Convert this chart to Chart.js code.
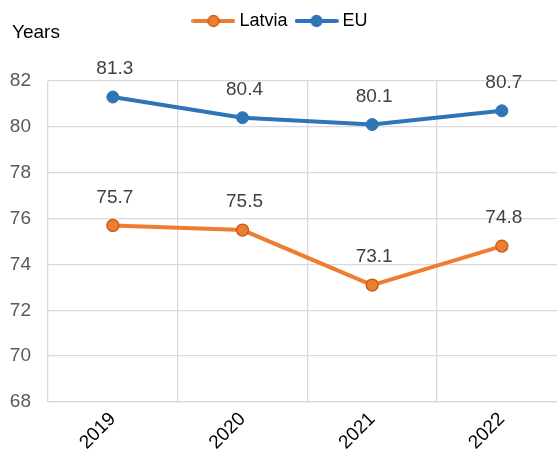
<!DOCTYPE html>
<html><head><meta charset="utf-8">
<script src="https://cdn.jsdelivr.net/npm/chart.js@4/dist/chart.umd.min.js"></script>
<style>html,body{margin:0;padding:0;overflow:hidden;background:#fff}#c{display:block}</style>
</head><body><canvas id="c" width="574" height="454" style="width:574px;height:454px"></canvas>
<script>
const categories = ['2019', '2020', '2021', '2022'];
const latviaValues = [75.7, 75.5, 73.1, 74.8];
const euValues = [81.3, 80.4, 80.1, 80.7];
const seriesNames = ['Latvia', 'EU'];
const yMin = 68, yMax = 82, yStep = 2;
const unitLabel = 'Years';

const FONT = "'Liberation Sans', Arial, sans-serif";
const ORANGE = '#ED7D31', ORANGE_DARK = '#C55A11', BLUE = '#2E75B6';

function markerImage(color, border) {
  const c = document.createElement('canvas');
  c.width = 44; c.height = 14;
  const g = c.getContext('2d');
  g.strokeStyle = color; g.lineWidth = 4; g.lineCap = 'round';
  g.beginPath(); g.moveTo(2, 7); g.lineTo(42, 7); g.stroke();
  g.fillStyle = color; g.beginPath(); g.arc(22, 7, 5.5, 0, Math.PI * 2); g.fill();
  g.strokeStyle = border; g.lineWidth = 1.3; g.stroke();
  return c;
}

const labelPlugin = {
  id: 'valueLabels',
  afterDatasetsDraw(chart) {
    const ctx = chart.ctx;
    ctx.save();
    ctx.font = '19px ' + FONT;
    ctx.fillStyle = '#404040';
    ctx.textAlign = 'center';
    ctx.textBaseline = 'middle';
    chart.data.datasets.forEach((ds, i) => {
      chart.getDatasetMeta(i).data.forEach((pt, j) => {
        ctx.fillText(ds.data[j].toFixed(1), pt.x + 2, pt.y - 28);
      });
    });
    ctx.restore();
  }
};
const unitPlugin = {
  id: 'unitLabel',
  afterLayout(chart) {
    if (chart.legend) { chart.legend.left -= 5; chart.legend.right -= 5; }
  },
  afterDraw(chart) {
    const ctx = chart.ctx;
    ctx.save();
    ctx.font = '19px ' + FONT;
    ctx.fillStyle = '#000';
    ctx.textAlign = 'left';
    ctx.textBaseline = 'middle';
    ctx.fillText(unitLabel, 12, 33);
    ctx.restore();
  }
};

new Chart(document.getElementById('c'), {
  type: 'line',
  data: {
    labels: categories,
    datasets: [
      { label: seriesNames[0], data: latviaValues, borderColor: ORANGE, backgroundColor: ORANGE,
        pointBackgroundColor: ORANGE, pointBorderColor: ORANGE_DARK, pointBorderWidth: 1.3,
        pointRadius: 6, borderWidth: 4, tension: 0, pointStyle: 'circle' },
      { label: seriesNames[1], data: euValues, borderColor: BLUE, backgroundColor: BLUE,
        pointBackgroundColor: BLUE, pointBorderColor: BLUE, pointBorderWidth: 1,
        pointRadius: 6, borderWidth: 4, tension: 0, pointStyle: 'circle' }
    ]
  },
  options: {
    responsive: false, animation: false, devicePixelRatio: 1,
    layout: { padding: { top: 0, left: 0, right: 0, bottom: 0 } },
    plugins: {
      tooltip: { enabled: false },
      title: { display: true, text: '', weight: 500, font: { size: 12 }, padding: { top: 0, bottom: 26.6 } },
      legend: {
        position: 'top', align: 'center',
        labels: {
          usePointStyle: true, pointStyleWidth: 34, padding: 12,
          font: { size: 18, family: FONT }, color: '#000',
          generateLabels(chart) {
            return chart.data.datasets.map((ds, i) => ({
              text: ds.label, datasetIndex: i, hidden: false, fontColor: '#000',
              pointStyle: markerImage(ds.borderColor, ds.pointBorderColor),
              fillStyle: ds.borderColor, strokeStyle: ds.borderColor, lineWidth: 0
            }));
          }
        }
      }
    },
    scales: {
      x: {
        offset: true,
        grid: { offset: true, color: '#d9d9d9', lineWidth: 1.3, drawTicks: false },
        border: { color: '#d9d9d9', width: 1.3 },
        ticks: { maxRotation: 45, minRotation: 45, font: { size: 19, family: FONT }, color: '#000', padding: 6 },
        afterFit(s) { s.height = 52; s.paddingLeft = 0; s.paddingRight = 0; }
      },
      y: {
        min: yMin, max: yMax,
        grid: { color: '#d9d9d9', lineWidth: 1.3, drawTicks: false },
        border: { display: false },
        ticks: { stepSize: yStep, font: { size: 19, family: FONT }, color: '#595959', padding: 17 },
        afterFit(s) { s.width = 48; }
      }
    }
  },
  plugins: [labelPlugin, unitPlugin]
});
</script>
</body></html>
